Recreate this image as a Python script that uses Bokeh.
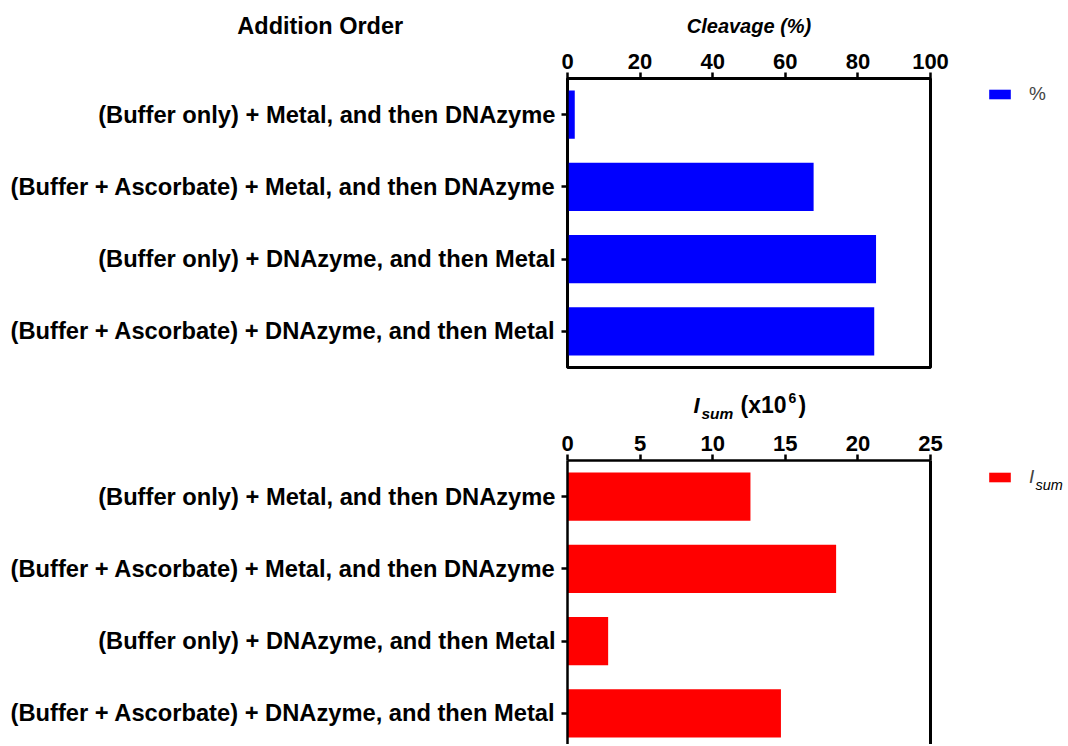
from bokeh.plotting import figure
from bokeh.models import Range1d, FixedTicker, Legend, LegendItem, LinearAxis
from bokeh.layouts import column, row
from bokeh.core.properties import value
from bokeh.embed import file_html
from bokeh.resources import INLINE

# ---- data ----
categories = [
    "(Buffer only) + Metal, and then DNAzyme",
    "(Buffer + Ascorbate) + Metal, and then DNAzyme",
    "(Buffer only) + DNAzyme, and then Metal",
    "(Buffer + Ascorbate) + DNAzyme, and then Metal",
]
cleavage = [2.0, 67.8, 85.0, 84.5]
isum = [12.6, 18.5, 2.8, 14.7]
cleavage_ticks = [0, 20, 40, 60, 80, 100]
isum_ticks = [0, 5, 10, 15, 20, 25]

FONT = "Liberation Sans"
BLUE = "#0000FF"
RED = "#FF0000"

ypos = list(range(len(categories)))
overrides = {i: c for i, c in zip(ypos, categories)}

FULLW = 1064
PW = 960                   # width of the plot figures
LW = FULLW - PW            # width of the legend strips
FL, FW = 567, 363          # frame left and width
FH1 = 289                  # top frame height
PXU = FH1 / 4.0            # px per category


def blank(w, h, **kw):
    f = figure(width=w, height=h, x_axis_type=None, y_axis_type=None, title_location=None,
               output_backend="svg", toolbar_location=None, outline_line_color=None, **kw)
    f.background_fill_color = "white"
    f.border_fill_color = "white"
    return f


def style_axes(p, xticks):
    p.xgrid.visible = False
    p.ygrid.visible = False
    p.background_fill_color = "white"
    p.border_fill_color = "white"
    xa = p.xaxis[0]
    xa.ticker = FixedTicker(ticks=xticks)
    xa.major_label_text_font = FONT
    xa.major_label_text_font_style = "bold"
    xa.major_label_text_font_size = "22px"
    xa.major_label_text_color = "black"
    xa.major_label_standoff = 4
    xa.major_tick_out = 6
    xa.major_tick_in = 0
    xa.minor_tick_line_color = None
    xa.axis_line_width = 2.5
    xa.major_tick_line_width = 2.5
    xa.axis_line_color = "black"
    ya = p.yaxis[0]
    ya.ticker = FixedTicker(ticks=ypos)
    ya.major_label_overrides = overrides
    ya.major_label_text_font = FONT
    ya.major_label_text_font_style = "bold"
    ya.major_label_text_font_size = "23.7px"
    ya.major_label_text_color = "black"
    ya.major_label_standoff = 6
    ya.major_tick_out = 6
    ya.major_tick_in = 0
    ya.minor_tick_line_color = None
    ya.axis_line_width = 2.5
    ya.major_tick_line_width = 2.5
    ya.axis_line_color = "black"


def legend_strip(h, top, frame_h, color, label, center_px, style="normal"):
    """Narrow figure right of a plot whose frame is aligned with the plot's frame."""
    f = blank(LW, h, x_range=Range1d(0, LW), y_range=Range1d(frame_h, 0),
              min_border_left=0, min_border_right=0, min_border_top=top,
              min_border_bottom=h - top - frame_h)
    proxy = f.hbar(y=[0], left=[0], right=[0], height=0, fill_color=color, line_color=None)
    ih = 24
    leg = Legend(items=[LegendItem(label=label, renderers=[proxy])],
                 location=(986 - PW, frame_h - (center_px - ih / 2) - ih),
                 padding=0, margin=0, border_line_color=None, background_fill_alpha=0,
                 glyph_width=27, glyph_height=12, label_standoff=16, label_height=ih,
                 label_text_font=FONT, label_text_font_size="19px",
                 label_text_font_style=style)
    f.add_layout(leg)
    return f


# ---------------- header (titles of top panel) ----------------
HH = 40
hdr = blank(FULLW, HH, x_range=Range1d(0, FULLW), y_range=Range1d(HH, 0), min_border=0)
hdr.text(x=[323], y=[25], text=["Addition  Order"], text_font=value(FONT),
         text_font_style="bold", text_font_size="23.5px", text_align="center",
         text_baseline="middle", text_color="black")
hdr.text(x=[FL + FW / 2], y=[25], text=["Cleavage (%)"], text_font=value(FONT),
         text_font_style="bold italic", text_font_size="20px", text_align="center",
         text_baseline="middle", text_color="black")

# ---------------- top panel ----------------
H1 = 346
TOP1 = 78 - HH
p1 = figure(width=PW, height=H1, x_range=Range1d(0, 100), y_range=Range1d(3.5, -0.5),
            x_axis_location="above", output_backend="svg", toolbar_location=None,
            title_location=None,
            min_border_left=FL, min_border_right=PW - FL - FW,
            min_border_top=TOP1, min_border_bottom=H1 - TOP1 - FH1)
style_axes(p1, cleavage_ticks)
p1.outline_line_color = "black"
p1.outline_line_width = 3
p1.hbar(y=ypos, left=0, right=cleavage, height=0.667, fill_color=BLUE, line_color=None)
lf1 = legend_strip(H1, TOP1, FH1, BLUE, "%", 94 - 78)

# ---------------- middle (title of bottom panel) ----------------
MY0 = HH + H1
MH = 424 - MY0
mid = blank(FULLW, MH, x_range=Range1d(0, FULLW), y_range=Range1d(MH, 0), min_border=0)
title_parts = [
    ("I", 693, 404.5, "22px", "bold italic"),
    ("sum", 701, 412.5, "15.5px", "bold italic"),
    ("(x10", 740, 404.5, "23px", "bold"),
    ("6", 788, 397, "14px", "bold"),
    (")", 798, 404.5, "23px", "bold"),
]
for txt, px, py, fs, st in title_parts:
    mid.text(x=[px], y=[py - MY0], text=[txt], text_font=value(FONT), text_font_style=st,
             text_font_size=fs, text_align="left", text_baseline="middle",
             text_color="black")

# ---------------- bottom panel ----------------
P2Y0 = MY0 + MH
H2 = 744 - P2Y0
TOP2 = 460 - P2Y0
FH2 = H2 - TOP2
p2 = figure(width=PW, height=H2, x_range=Range1d(0, 25),
            y_range=Range1d(-0.5 + FH2 / PXU, -0.5),
            x_axis_location="above", output_backend="svg", toolbar_location=None,
            title_location=None,
            min_border_left=FL, min_border_right=PW - FL - FW,
            min_border_top=TOP2, min_border_bottom=0)
style_axes(p2, isum_ticks)
p2.outline_line_color = None
right_ax = LinearAxis(ticker=FixedTicker(ticks=[]), major_label_text_font_size="0px",
                      major_tick_line_color=None, minor_tick_line_color=None,
                      major_tick_out=0, major_tick_in=0, major_label_standoff=0,
                      axis_line_width=3, axis_line_color="black")
p2.add_layout(right_ax, "right")
p2.hbar(y=ypos, left=0, right=isum, height=0.667, fill_color=RED, line_color=None)

lf2 = legend_strip(H2, TOP2, FH2, RED, "I", 477 - 460, style="italic")
lf2.text(x=[1035 - PW], y=[484 - 460], text=["sum"], text_font=value(FONT),
         text_font_style="italic", text_font_size="14.5px", text_align="left",
         text_baseline="middle", text_color="black")

layout = column(hdr, row(p1, lf1), mid, row(p2, lf2))
open("out.html", "w").write(file_html(layout, INLINE))
